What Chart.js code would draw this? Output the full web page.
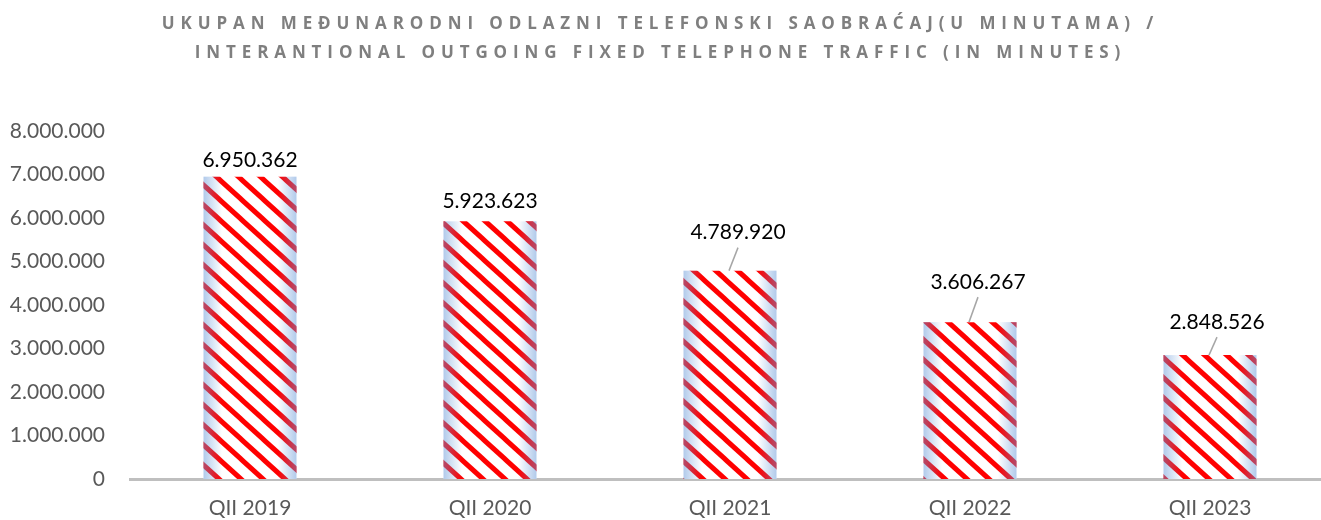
<!DOCTYPE html>
<html>
<head>
<meta charset="utf-8">
<script src="https://cdn.jsdelivr.net/npm/chart.js@4.4.1/dist/chart.umd.min.js"></script>
<style>
    html, body { margin: 0; padding: 0; background: #fff; overflow: hidden; }
    #wrap { position: relative; width: 1340px; height: 520px; }
    #grafikon { display: block; }
    #naslov {
        position: absolute; left: 0; top: 8px; width: 1321px;
        text-align: center; font-family: 'Open Sans', sans-serif; font-weight: 700;
        font-size: 17px; line-height: 29px; letter-spacing: 5.9px; color: #7f7f7f;
    }
</style>
</head>
<body>
<div id="wrap">
    <canvas id="grafikon" width="1340" height="520"></canvas>
    <div id="naslov">UKUPAN MEĐUNARODNI ODLAZNI TELEFONSKI SAOBRAĆAJ(U MINUTAMA) /<br>INTERANTIONAL OUTGOING FIXED TELEPHONE TRAFFIC (IN MINUTES)</div>
</div>
<script>
// podaci
const kvartali = ['QII 2019', 'QII 2020', 'QII 2021', 'QII 2022', 'QII 2023'];
const minuti = [6950362, 5923623, 4789920, 3606267, 2848526];
const yTicks = [0, 1000000, 2000000, 3000000, 4000000, 5000000, 6000000, 7000000, 8000000];

// pomjeranje natpisa (dx, dy iznad vrha stupca) i da li ide linija
const natpisPomak = [[0, 16], [0, 20], [8, 38], [8, 40], [7, 33]];
const natpisLinija = [false, false, true, true, true];

function formatBroj(v) {
    return String(v).replace(/\B(?=(\d{3})+(?!\d))/g, '.');
}

// sare: bijela pozadina, crvene dijagonalne linije
function napraviSaru(ctx) {
    const W = 22, H = 20;
    const c = document.createElement('canvas');
    c.width = W; c.height = H;
    const p = c.getContext('2d');
    p.fillStyle = '#ffffff';
    p.fillRect(0, 0, W, H);
    p.strokeStyle = '#ff0000';
    p.lineWidth = 5;
    for (let k = -1; k <= 1; k++) {
        p.beginPath();
        p.moveTo(-W, k * H - H);
        p.lineTo(2 * W, k * H + 2 * H);
        p.stroke();
    }
    return ctx.createPattern(c, 'repeat');
}

const stupciPlugin = {
    id: 'stupci',
    afterDatasetsDraw(chart) {
        const ctx = chart.ctx;
        const meta = chart.getDatasetMeta(0);
        meta.data.forEach((el, i) => {
            const left = el.x - el.width / 2;
            const right = el.x + el.width / 2;
            // plavi rubovi
            const g = ctx.createLinearGradient(left, 0, right, 0);
            g.addColorStop(0, 'rgba(100,150,215,0.5)');
            g.addColorStop(0.2, 'rgba(100,150,215,0)');
            g.addColorStop(0.8, 'rgba(100,150,215,0)');
            g.addColorStop(1, 'rgba(100,150,215,0.5)');
            ctx.save();
            ctx.fillStyle = g;
            ctx.fillRect(left, el.y, el.width, el.base - el.y);
            ctx.restore();

            // natpisi
            const dx = natpisPomak[i][0], dy = natpisPomak[i][1];
            const tx = el.x + dx, ty = el.y - dy;
            ctx.save();
            if (natpisLinija[i]) {
                ctx.strokeStyle = '#a6a6a6';
                ctx.lineWidth = 1.5;
                ctx.beginPath();
                ctx.moveTo(el.x - 1, el.y);
                ctx.lineTo(tx, ty + 15);
                ctx.stroke();
            }
            ctx.font = '21px Lato';
            ctx.fillStyle = '#000000';
            ctx.textAlign = 'center';
            ctx.textBaseline = 'middle';
            ctx.fillText(formatBroj(minuti[i]), tx, ty);
            ctx.restore();
        });
    }
};

const ctx = document.getElementById('grafikon').getContext('2d');
new Chart(ctx, {
    type: 'bar',
    data: {
        labels: kvartali,
        datasets: [{
            label: 'Minuti',
            data: minuti,
            backgroundColor: napraviSaru(ctx),
            borderWidth: 0,
            categoryPercentage: 1,
            barPercentage: 0.3875
        }]
    },
    options: {
        responsive: false,
        animation: false,
        layout: { padding: { top: 131, right: 10, left: 0, bottom: 0 } },
        plugins: {
            legend: { display: false },
            tooltip: { enabled: false }
        },
        scales: {
            x: {
                grid: { display: false },
                border: { display: true, color: '#bfbfbf', width: 3 },
                ticks: { color: '#595959', font: { family: 'Lato', size: 21 }, padding: 9 },
                afterFit: s => { s.height = 41; }
            },
            y: {
                min: 0,
                max: 8000000,
                grid: { display: false },
                border: { display: false },
                afterBuildTicks: s => { s.ticks = yTicks.map(v => ({ value: v })); },
                afterFit: s => { s.width = 130; },
                ticks: {
                    color: '#595959',
                    font: { family: 'Lato', size: 21 },
                    padding: 17,
                    callback: v => formatBroj(v)
                }
            }
        }
    },
    plugins: [stupciPlugin]
});
</script>
</body>
</html>
